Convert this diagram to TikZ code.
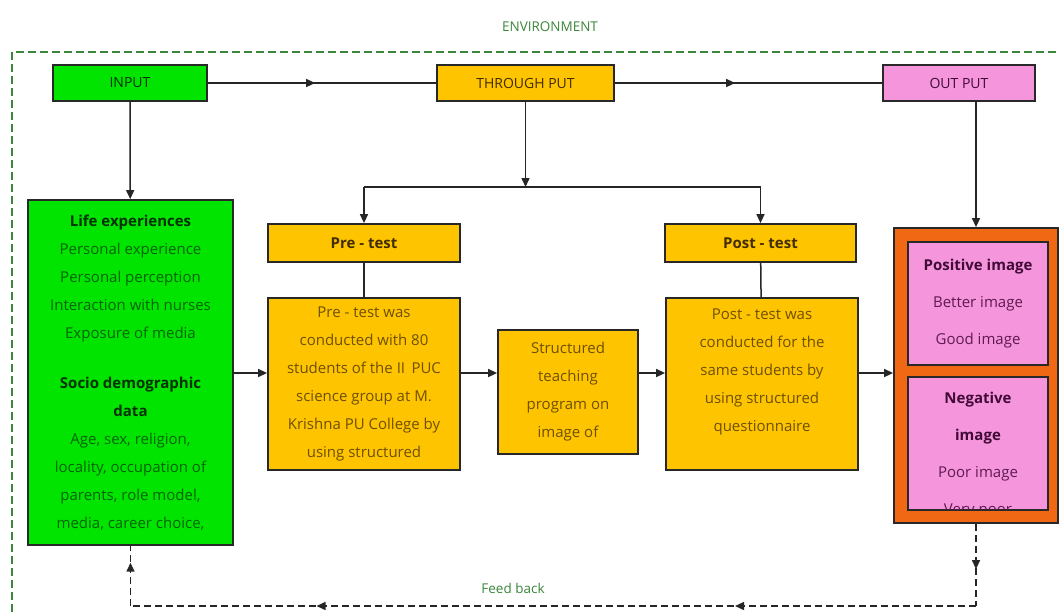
\documentclass[tikz,border=0pt]{standalone}
\usepackage{fontspec}
\setmainfont{Open Sans}
\usetikzlibrary{arrows.meta,decorations.markings}
\definecolor{boxgreen}{RGB}{0,228,0}
\definecolor{boxyellow}{RGB}{255,196,0}
\definecolor{boxpink}{RGB}{245,150,220}
\definecolor{boxorange}{RGB}{240,104,20}
\definecolor{envgreen}{RGB}{60,135,60}
\definecolor{txtgreen}{RGB}{0,100,0}
\definecolor{txtdkgreen}{RGB}{0,50,0}
\definecolor{txtbrown}{RGB}{110,80,0}
\definecolor{txtdkbrown}{RGB}{65,45,0}
\definecolor{txtpurple}{RGB}{95,25,80}
\definecolor{txtdkpurple}{RGB}{65,10,55}
\definecolor{edge}{RGB}{40,40,40}
\begin{document}
\begin{tikzpicture}[x=1pt,y=-1pt,
  box/.style={draw=edge,line width=1.8pt,inner sep=0pt,align=center},
  topbox/.style={box,font=\fontsize{14}{16}\selectfont},
  bodybox/.style={box,font=\fontsize{15}{28}\selectfont},
  pinkbox/.style={box,fill=boxpink,text=txtpurple,font=\fontsize{15}{37}\selectfont},
  conn/.style={line width=1.5pt,draw=black!85},
  tip/.style={-{Triangle[length=9pt,width=8pt]}},
  midarrow/.style={postaction={decorate},decoration={markings,
      mark=at position #1 with {\arrow{Triangle[length=9pt,width=8pt]}}}},
  fb/.style={line width=1.5pt,draw=black!85,dash pattern=on 7pt off 4pt},
  envbox/.style={line width=1.6pt,draw=envgreen,dash pattern=on 8pt off 4pt},
  envlabel/.style={text=envgreen,font=\fontsize{13.5}{15}\selectfont}
]
\useasboundingbox (0,0) rectangle (1060,614);
\fill[white] (0,0) rectangle (1060,614);

% environment
\begin{scope}
  \clip (0,0) rectangle (1060,614);
  \draw[envbox] (12,52) rectangle (1080,640);
\end{scope}
\node[envlabel] (envtitle) at (550,27) {ENVIRONMENT};
\node[envlabel] (fbtitle) at (513,588) {Feed back};

% top row
\node[topbox,fill=boxgreen,text=txtdkgreen,minimum width=154,minimum height=36] (input) at (130,83) {INPUT};
\node[topbox,fill=boxyellow,text=txtdkbrown,minimum width=177,minimum height=36] (through) at (525.5,83) {THROUGH PUT};
\node[topbox,fill=boxpink,text=txtdkpurple,minimum width=152,minimum height=36] (out) at (959,83) {OUT PUT};

% life box
\node[bodybox,fill=boxgreen,text=txtgreen,minimum width=205,minimum height=345] (life) at (130.5,372.5)
 {{\bfseries\color{txtdkgreen}Life experiences}\\ Personal experience\\ Personal perception\\
  Interaction with nurses\\ Exposure of media\\[22pt]
  {\bfseries\color{txtdkgreen}Socio demographic}\\ {\bfseries\color{txtdkgreen}data}\\
  Age, sex, religion,\\ locality, occupation of\\ parents, role model,\\ media, career choice,};

% tests
\node[bodybox,fill=boxyellow,text=txtdkbrown,font=\bfseries\fontsize{15}{28}\selectfont,minimum width=192,minimum height=38] (pre) at (364,243) {Pre - test};
\node[bodybox,fill=boxyellow,text=txtdkbrown,font=\bfseries\fontsize{15}{28}\selectfont,minimum width=191,minimum height=38] (post) at (760.5,243) {Post - test};

\node[bodybox,fill=boxyellow,text=txtbrown,minimum width=192,minimum height=172] (pretxt) at (364,384)
 {Pre - test was\\ conducted with 80\\ students of the II\, PUC\\ science group at M.\\ Krishna PU College by\\ using structured};
\node[bodybox,fill=boxyellow,text=txtbrown,minimum width=140,minimum height=124] (structured) at (568,392)
 {Structured\\ teaching\\ program on\\ image of};
\node[bodybox,fill=boxyellow,text=txtbrown,minimum width=192,minimum height=172] (posttxt) at (762,384)
 {Post - test was\\ conducted for the\\ same students by\\ using structured\\ questionnaire\\ \mbox{}};

% output
\node[box,fill=boxorange,minimum width=164,minimum height=295] (outer) at (976,375.5) {};
\node[pinkbox,minimum width=140,minimum height=123] (pos) at (978,303.5)
 {{\bfseries\color{txtdkpurple}Positive image}\\ Better image\\ Good image};
\node[pinkbox,minimum width=140,minimum height=133] (neg) at (978,443.5) {};
\begin{scope}
  \clip ([xshift=1pt,yshift=-1pt]neg.north west) rectangle ([xshift=-1pt,yshift=1pt]neg.south east);
  \node[align=center,text=txtpurple,font=\fontsize{15}{37}\selectfont] (negtxt) at (978,455)
   {{\bfseries\color{txtdkpurple}Negative}\\ {\bfseries\color{txtdkpurple}image}\\ Poor image\\ Very poor};
\end{scope}

% connectors
\coordinate (split) at (525.5,187);
\coordinate (row) at (0,373);
\coordinate (fbR) at (976,606);
\coordinate (fbL) at (130.5,606);

\draw[conn,midarrow=0.47] (input) -- (through);
\draw[conn,midarrow=0.45] (through) -- (out);
\draw[conn,tip] (input) -- (life);
\draw[conn,tip] (through) -- (split);
\draw[conn] (pre.north |- split) -- (post.north |- split);
\draw[conn,tip] (pre.north |- split) -- (pre);
\draw[conn,tip] (post.north |- split) -- (post);
\draw[conn] (pre) -- (pretxt);
\draw[conn] (post) -- (posttxt);
\draw[conn,tip] (life.east |- row) -- (pretxt.west |- row);
\draw[conn,tip] (pretxt.east |- row) -- (structured.west |- row);
\draw[conn,tip] (structured.east |- row) -- (posttxt.west |- row);
\draw[conn,tip] (posttxt.east |- row) -- (outer.west |- row);
\draw[conn,tip] (outer.north |- out.south) -- (outer.north);

% feedback
\draw[fb,midarrow=0.55] (outer.south) -- (fbR);
\draw[fb,postaction={decorate},decoration={markings,
   mark=at position 0.285 with {\arrow{Triangle[length=9pt,width=8pt]}},
   mark=at position 0.78 with {\arrow{Triangle[length=9pt,width=8pt]}}}] (fbR) -- (fbL);
\draw[fb,midarrow=0.72] (fbL) -- (life.south);
\end{tikzpicture}
\end{document}
